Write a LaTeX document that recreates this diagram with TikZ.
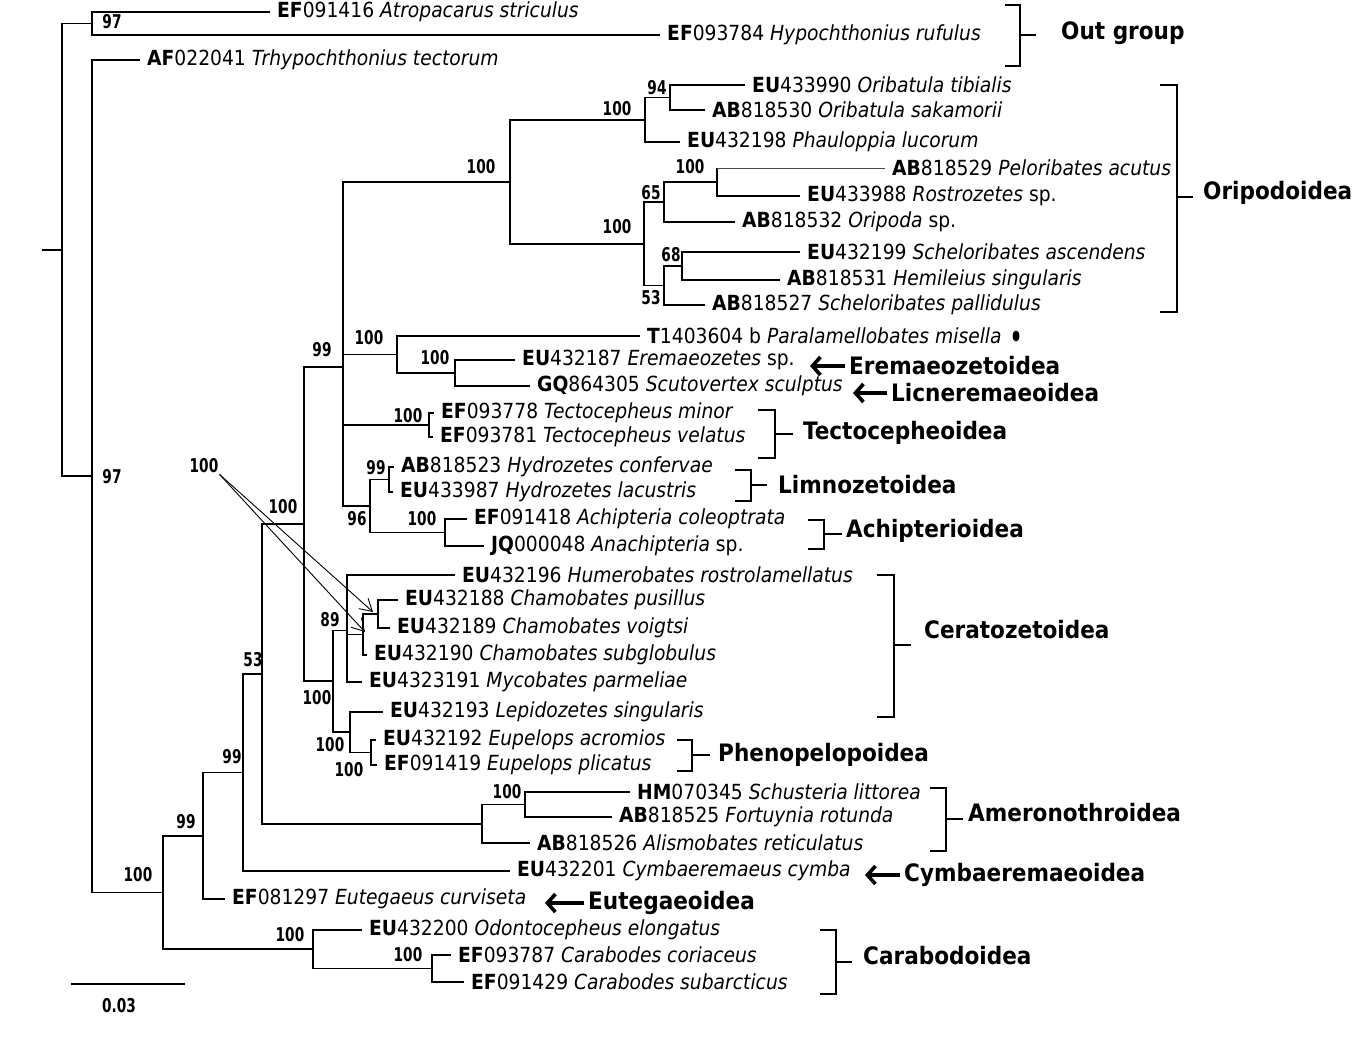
\documentclass[tikz,border=0pt]{standalone}
\usepackage{fontspec}
\setmainfont{DejaVu Sans Condensed}
\newfontfamily\bootfont{DejaVu Sans Condensed Bold}[FakeStretch=0.8]
\usetikzlibrary{arrows.meta}
\tikzset{
  branch/.style={line width=1.3pt},
  taxon/.style={anchor=west, inner xsep=7pt, inner ysep=1pt, font=\fontsize{20.8}{22}\selectfont},
  boot/.style={inner sep=1pt, font=\bootfont\fontsize{19}{20}\selectfont},
  grp/.style={anchor=west, inner xsep=4pt, font=\bfseries\fontsize{24}{26}\selectfont},
  brk/.style={line width=1.3pt},
  grparrow/.style={line width=3.6pt, -{Straight Barb[length=8pt,width=18pt]}},
  pointer/.style={line width=0.9pt, -{Straight Barb[length=12pt,width=14pt]}}
}
\begin{document}
\begin{tikzpicture}[x=1pt,y=-1pt]
  \useasboundingbox (0,0) rectangle (1356,1049);
  % internal nodes of the tree
  \coordinate (base) at (42,250);
  \coordinate (root) at (62,250);
  \coordinate (nA) at (92,23.5);
  \coordinate (nB) at (92,476);
  \coordinate (nC) at (163,892.5);
  \coordinate (nD) at (203,836);
  \coordinate (nF) at (243,772.5);
  \coordinate (nG) at (262,674);
  \coordinate (nH) at (304,524);
  \coordinate (nJ) at (343,367);
  \coordinate (nOri) at (510,182);
  \coordinate (nOriA) at (645,120);
  \coordinate (nOrib) at (670,97.5);
  \coordinate (nOriB) at (644,244);
  \coordinate (n65) at (664,202);
  \coordinate (nPel) at (717,182);
  \coordinate (n53) at (664,285.5);
  \coordinate (n68) at (682,266);
  \coordinate (nPar) at (397,354.5);
  \coordinate (nErem) at (455,373);
  \coordinate (nTec) at (429,425);
  \coordinate (n96) at (370,506);
  \coordinate (nHyd) at (389,479.5);
  \coordinate (nAch) at (445,532.5);
  \coordinate (nK) at (333,681);
  \coordinate (nS) at (347,630.5);
  \coordinate (nU) at (363,634.5);
  \coordinate (nCha) at (378,614);
  \coordinate (nT) at (350,732);
  \coordinate (nEup) at (371,752.5);
  \coordinate (nI) at (482,824);
  \coordinate (nSch) at (525,804.5);
  \coordinate (nE) at (313,949);
  \coordinate (nCar) at (432,968.5);

  % taxa
  \node[taxon] (l1) at (270,12) {\textbf{EF}091416 \textit{Atropacarus striculus}};
  \node[taxon] (l2) at (660,35) {\textbf{EF}093784 \textit{Hypochthonius rufulus}};
  \node[taxon] (l3) at (140,60) {\textbf{AF}022041 \textit{Trhypochthonius tectorum}};
  \node[taxon] (l4) at (745,85) {\textbf{EU}433990 \textit{Oribatula tibialis}};
  \node[taxon] (l5) at (705,110) {\textbf{AB}818530 \textit{Oribatula sakamorii}};
  \node[taxon] (l6) at (680,142) {\textbf{EU}432198 \textit{Phauloppia lucorum}};
  \node[taxon] (l7) at (885,168) {\textbf{AB}818529 \textit{Peloribates acutus}};
  \node[taxon] (l8) at (800,196) {\textbf{EU}433988 \textit{Rostrozetes} sp.};
  \node[taxon] (l9) at (735,222) {\textbf{AB}818532 \textit{Oripoda} sp.};
  \node[taxon] (l10) at (800,252) {\textbf{EU}432199 \textit{Scheloribates ascendens}};
  \node[taxon] (l11) at (780,280) {\textbf{AB}818531 \textit{Hemileius singularis}};
  \node[taxon] (l12) at (705,305) {\textbf{AB}818527 \textit{Scheloribates pallidulus}};
  \node[taxon] (l13) at (640,336) {\textbf{T}1403604 b \textit{Paralamellobates misella}};
  \node[taxon] (l14) at (515,360) {\textbf{EU}432187 \textit{Eremaeozetes} sp.};
  \node[taxon] (l15) at (530,386) {\textbf{GQ}864305 \textit{Scutovertex sculptus}};
  \node[taxon] (l16) at (434,413) {\textbf{EF}093778 \textit{Tectocepheus minor}};
  \node[taxon] (l17) at (433,437) {\textbf{EF}093781 \textit{Tectocepheus velatus}};
  \node[taxon] (l18) at (394,467) {\textbf{AB}818523 \textit{Hydrozetes confervae}};
  \node[taxon] (l19) at (393,492) {\textbf{EU}433987 \textit{Hydrozetes lacustris}};
  \node[taxon] (l20) at (467,519) {\textbf{EF}091418 \textit{Achipteria coleoptrata}};
  \node[taxon] (l21) at (484,546) {\textbf{JQ}000048 \textit{Anachipteria} sp.};
  \node[taxon] (l22) at (455,575) {\textbf{EU}432196 \textit{Humerobates rostrolamellatus}};
  \node[taxon] (l23) at (398,600) {\textbf{EU}432188 \textit{Chamobates pusillus}};
  \node[taxon] (l24) at (390,628) {\textbf{EU}432189 \textit{Chamobates voigtsi}};
  \node[taxon] (l25) at (367,655) {\textbf{EU}432190 \textit{Chamobates subglobulus}};
  \node[taxon] (l26) at (362,682) {\textbf{EU}4323191 \textit{Mycobates parmeliae}};
  \node[taxon] (l27) at (383,712) {\textbf{EU}432193 \textit{Lepidozetes singularis}};
  \node[taxon] (l28) at (376,740) {\textbf{EU}432192 \textit{Eupelops acromios}};
  \node[taxon] (l29) at (377,765) {\textbf{EF}091419 \textit{Eupelops plicatus}};
  \node[taxon] (l30) at (630,792) {\textbf{HM}070345 \textit{Schusteria littorea}};
  \node[taxon] (l31) at (612,817) {\textbf{AB}818525 \textit{Fortuynia rotunda}};
  \node[taxon] (l32) at (530,843) {\textbf{AB}818526 \textit{Alismobates reticulatus}};
  \node[taxon] (l33) at (510,871) {\textbf{EU}432201 \textit{Cymbaeremaeus cymba}};
  \node[taxon] (l34) at (225,899) {\textbf{EF}081297 \textit{Eutegaeus curviseta}};
  \node[taxon] (l35) at (362,930) {\textbf{EU}432200 \textit{Odontocepheus elongatus}};
  \node[taxon] (l36) at (451,955) {\textbf{EF}093787 \textit{Carabodes coriaceus}};
  \node[taxon] (l37) at (464,982) {\textbf{EF}091429 \textit{Carabodes subarcticus}};

  % branches
  \draw[branch] (base) -- (root);
  \draw[branch] (root) |- (nA) (root) |- (nB);
  \draw[branch] (nA) |- (l1.west) (nA) |- (l2.west);
  \draw[branch] (nB) |- (l3.west) (nB) |- (nC);
  \draw[branch] (nC) |- (nD) (nC) |- (nE);
  \draw[branch] (nD) |- (nF) (nD) |- (l34.west);
  \draw[branch] (nF) |- (nG) (nF) |- (l33.west);
  \draw[branch] (nG) |- (nH) (nG) |- (nI);
  \draw[branch] (nH) |- (nJ) (nH) |- (nK);
  \draw[branch] (nJ) |- (nOri) (nJ) |- (nPar) (nJ) |- (nTec) (nJ) |- (n96);
  \draw[branch] (nOri) |- (nOriA) (nOri) |- (nOriB);
  \draw[branch] (nOriA) |- (nOrib) (nOriA) |- (l6.west);
  \draw[branch] (nOrib) |- (l4.west) (nOrib) |- (l5.west);
  \draw[branch] (nOriB) |- (n65) (nOriB) |- (n53);
  \draw[branch] (n65) |- (nPel) (n65) |- (l9.west);
  \draw[branch] (nPel) |- (l8.west) (nPel) -- (nPel |- l7.west);
  \draw[line width=0.8pt, black!70] (nPel |- l7.west) -- (l7.west);
  \draw[branch] (n53) |- (n68) (n53) |- (l12.west);
  \draw[branch] (n68) |- (l10.west) (n68) |- (l11.west);
  \draw[branch] (nPar) |- (l13.west) (nPar) |- (nErem);
  \draw[branch] (nErem) |- (l14.west) (nErem) |- (l15.west);
  \draw[branch] (nTec) |- (l16.west) (nTec) |- (l17.west);
  \draw[branch] (n96) |- (nHyd) (n96) |- (nAch);
  \draw[branch] (nHyd) |- (l18.west) (nHyd) |- (l19.west);
  \draw[branch] (nAch) |- (l20.west) (nAch) |- (l21.west);
  \draw[branch] (nK) |- (nS) (nK) |- (nT);
  \draw[branch] (nS) |- (l22.west) (nS) |- (nU) (nS) |- (l26.west);
  \draw[branch] (nU) |- (nCha) (nU) |- (l25.west);
  \draw[branch] (nCha) |- (l23.west) (nCha) |- (l24.west);
  \draw[branch] (nT) |- (l27.west) (nT) |- (nEup);
  \draw[branch] (nEup) |- (l28.west) (nEup) |- (l29.west);
  \draw[branch] (nI) |- (nSch) (nI) |- (l32.west);
  \draw[branch] (nSch) |- (l30.west) (nSch) |- (l31.west);
  \draw[branch] (nE) |- (l35.west) (nE) |- (nCar);
  \draw[branch] (nCar) |- (l36.west) (nCar) |- (l37.west);

  % bootstrap values
  \node[boot] (bA) at (112,22) {97};
  \node[boot] (bB) at (112,477) {97};
  \node[boot] (bC) at (138,875) {100};
  \node[boot] (bD) at (186,822) {99};
  \node[boot] (bF) at (232,757) {99};
  \node[boot] (bG) at (253,660) {53};
  \node[boot] (bH) at (283,507) {100};
  \node[boot] (bJ) at (322,350) {99};
  \node[boot] (bOri) at (481,167) {100};
  \node[boot] (bOriA) at (617,109) {100};
  \node[boot] (bOrib) at (657,88) {94};
  \node[boot] (bPel) at (690,167) {100};
  \node[boot] (b65) at (651,193) {65};
  \node[boot] (bOriB) at (617,227) {100};
  \node[boot] (b68) at (671,255) {68};
  \node[boot] (b53) at (651,298) {53};
  \node[boot] (bPar) at (369,338) {100};
  \node[boot] (bErem) at (435,358) {100};
  \node[boot] (bTec) at (408,416) {100};
  \node[boot] (bHyd) at (376,468) {99};
  \node[boot] (b96) at (357,519) {96};
  \node[boot] (bAch) at (422,519) {100};
  \node[boot] (bS) at (330,620) {89};
  \node[boot] (bK) at (317,698) {100};
  \node[boot] (bT) at (330,745) {100};
  \node[boot] (bEup) at (349,770) {100};
  \node[boot] (bSch) at (507,792) {100};
  \node[boot] (bE) at (290,935) {100};
  \node[boot] (bCar) at (408,955) {100};

  % pointer to the Chamobates nodes
  \node[boot] (bPtr) at (204,466) {100};
  \coordinate (pCha) at (373,612);
  \coordinate (pU) at (365,632);
  \draw[pointer] (bPtr.south east) -- (pCha);
  \draw[pointer] (bPtr.south east) -- (pU);

  % marker
  \fill (1016,336) ellipse [x radius=3.5, y radius=5.5];

  % superfamilies
  \draw[brk] (1005,5) -| (1020,66) -- (1005,66);
  \draw[brk] (1020,35) -- (1036,35);
  \node[grp] (gOut) at (1057,33) {Out group};
  \draw[brk] (1160,85) -| (1177,312) -- (1160,312);
  \draw[brk] (1177,197) -- (1193,197);
  \node[grp] (gOri) at (1199,193) {Oripodoidea};
  \draw[brk] (758,410) -| (775,458) -- (758,458);
  \draw[brk] (775,434) -- (793,434);
  \node[grp] (gTec) at (799,433) {Tectocepheoidea};
  \draw[brk] (735,470) -| (751,501) -- (735,501);
  \draw[brk] (751,485) -- (767,485);
  \node[grp] (gLim) at (774,485) {Limnozetoidea};
  \draw[brk] (808,520) -| (824,549) -- (808,549);
  \draw[brk] (824,534) -- (842,534);
  \node[grp] (gAch) at (842,531) {Achipterioidea};
  \draw[brk] (877,575) -| (894,717) -- (877,717);
  \draw[brk] (894,645) -- (911,645);
  \node[grp] (gCer) at (920,630) {Ceratozetoidea};
  \draw[brk] (677,740) -| (692,771) -- (677,771);
  \draw[brk] (692,755) -- (710,755);
  \node[grp] (gPhe) at (714,755) {Phenopelopoidea};
  \draw[brk] (930,788) -| (946,851) -- (930,851);
  \draw[brk] (946,819) -- (963,819);
  \node[grp] (gAme) at (964,813) {Ameronothroidea};
  \draw[brk] (820,930) -| (836,994) -- (820,994);
  \draw[brk] (836,962) -- (852,962);
  \node[grp] (gCar) at (859,956) {Carabodoidea};

  \node[grp] (gErem) at (845,366) {Eremaeozetoidea};
  \coordinate (aErem) at (810,366);
  \draw[grparrow] (gErem.west) -- (aErem);
  \node[grp] (gLic) at (887,393) {Licneremaeoidea};
  \coordinate (aLic) at (853,393);
  \draw[grparrow] (gLic.west) -- (aLic);
  \node[grp] (gCym) at (900,875) {Cymbaeremaeoidea};
  \coordinate (aCym) at (865,875);
  \draw[grparrow] (gCym.west) -- (aCym);
  \node[grp] (gEut) at (584,903) {Eutegaeoidea};
  \coordinate (aEut) at (545,903);
  \draw[grparrow] (gEut.west) -- (aEut);

  % scale bar
  \coordinate (sb1) at (71,984);
  \coordinate (sb2) at (185,984);
  \draw[branch] (sb1) -- (sb2);
  \node[boot] (sbl) at (119,1006) {0.03};
\end{tikzpicture}
\end{document}
